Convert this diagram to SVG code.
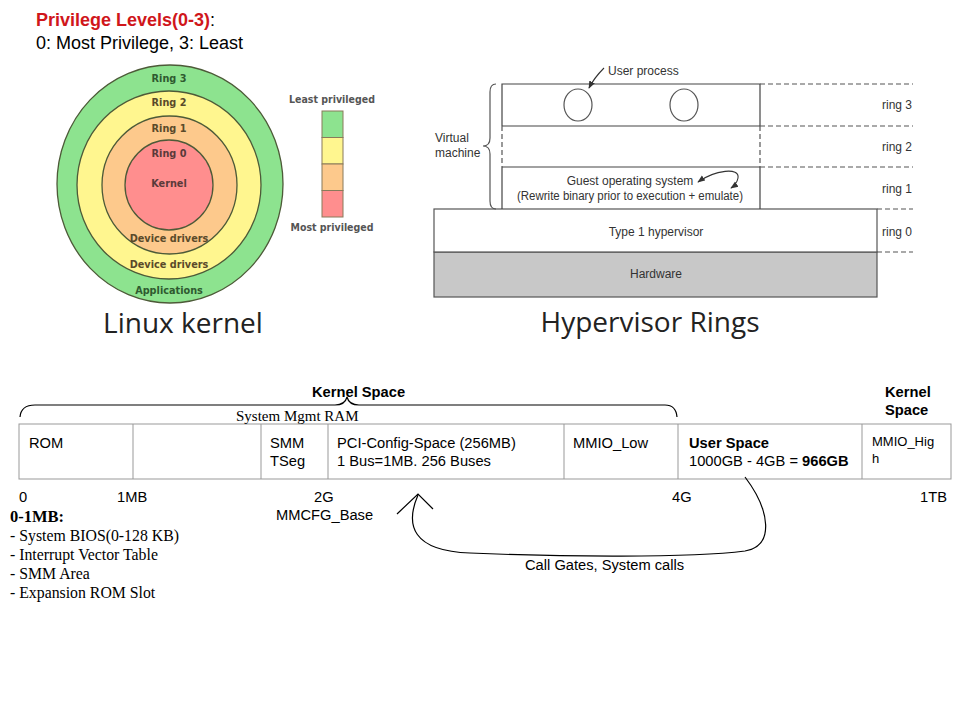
<svg xmlns="http://www.w3.org/2000/svg" width="960" height="720" viewBox="0 0 960 720">
<defs>
<style>
.a{font-family:"Liberation Sans",Arial,sans-serif;fill:#000}
.s{font-family:"Liberation Serif","Times New Roman",serif;fill:#000}
.rl{font-family:"DejaVu Sans Condensed","DejaVu Sans",sans-serif;font-weight:bold;font-size:10.8px;text-anchor:middle}
.lg{font-family:"DejaVu Sans Condensed","DejaVu Sans",sans-serif;font-weight:bold;font-size:10.5px;text-anchor:middle;fill:#555}
.h{font-family:"Liberation Sans",Arial,sans-serif;font-size:12px;fill:#333}
.big{font-family:"Open Sans","Noto Sans",sans-serif;font-size:28px;fill:#222;text-anchor:middle}
.ring{stroke:#4d5a38;stroke-width:1.3}
.ln{stroke:#444;stroke-width:1.2;fill:none}
.dash{stroke:#555;stroke-width:1.2;stroke-dasharray:5 3;fill:none}
.cell{fill:#fff;stroke:#999;stroke-width:1}
.cv{fill:none;stroke:#000;stroke-width:1.2}
.m{font-size:14.7px}
</style>
<marker id="ah" viewBox="0 0 10 10" refX="9" refY="5" markerWidth="7" markerHeight="7" orient="auto-start-reverse">
<path d="M0,1 L10,5 L0,9 z" fill="#333"/>
</marker>
</defs>
<rect width="960" height="720" fill="#fff"/>

<g id="title">
<text class="a" x="36" y="26" font-size="18" font-weight="bold" fill="#d0161b"><tspan fill="#d0161b">Privilege Levels(0-3)</tspan><tspan font-weight="normal" fill="#000">:</tspan></text>
<text class="a" x="36" y="49" font-size="18">0: Most Privilege, 3: Least</text>
</g>

<g id="linux-kernel">
<ellipse class="ring" cx="170" cy="184" rx="113" ry="119" fill="#8de38f"/>
<ellipse class="ring" cx="169" cy="185" rx="92" ry="94" fill="#fff68f"/>
<ellipse class="ring" cx="169.5" cy="185" rx="67.5" ry="69" fill="#fdc98c"/>
<ellipse class="ring" cx="169" cy="185" rx="44" ry="45" fill="#ff8e8e"/>
<text class="rl" x="169" y="82" fill="#2f5a2f">Ring 3</text>
<text class="rl" x="169" y="106" fill="#5a4a2a">Ring 2</text>
<text class="rl" x="169" y="132" fill="#5a4a2a">Ring 1</text>
<text class="rl" x="169" y="157" fill="#5a3a3a">Ring 0</text>
<text class="rl" x="169" y="187" fill="#5a3a3a">Kernel</text>
<text class="rl" x="169" y="242" fill="#5a4a2a">Device drivers</text>
<text class="rl" x="169" y="268" fill="#5a4a2a">Device drivers</text>
<text class="rl" x="169" y="294" fill="#2f5a2f">Applications</text>
<text class="lg" x="332" y="103">Least privileged</text>
<text class="lg" x="332" y="231">Most privileged</text>
<rect x="322" y="111" width="21" height="26.5" fill="#8de38f" stroke="#8a7a5a"/>
<rect x="322" y="137.5" width="21" height="26.5" fill="#fff68f" stroke="#8a7a5a"/>
<rect x="322" y="164" width="21" height="26.5" fill="#fdc98c" stroke="#8a7a5a"/>
<rect x="322" y="190.5" width="21" height="26.5" fill="#ff8e8e" stroke="#8a7a5a"/>
<text class="big" x="183" y="333">Linux kernel</text>
</g>

<g id="hypervisor-rings">
<rect x="434" y="252" width="443" height="45" fill="#c8c8c8" stroke="#555" stroke-width="1.2"/>
<rect x="434" y="209" width="443" height="43" fill="#fff" stroke="#555" stroke-width="1.2"/>
<path class="ln" d="M502 126 V84 H760 V126 M502 126 H760 M502 167 H760 M502 167 V209 M760 167 V209"/>
<path class="dash" d="M502 126 V167 M760 126 V167"/>
<path class="dash" d="M760 84 H913 M760 126 H913 M760 167 H913 M877 209 H913 M877 252 H913"/>
<ellipse cx="578" cy="105" rx="14" ry="16" fill="none" stroke="#555" stroke-width="1.2"/>
<ellipse cx="684" cy="105" rx="14" ry="16" fill="none" stroke="#555" stroke-width="1.2"/>
<path d="M496 84 Q490 84 490 92 V138 Q490 146 483 146 Q490 146 490 154 V201 Q490 209 496 209" fill="none" stroke="#555" stroke-width="1.2"/>
<text class="h" x="435" y="142">Virtual</text>
<text class="h" x="435" y="157">machine</text>
<text class="h" x="608" y="75">User process</text>
<path d="M604 68 Q594 78 589 88" fill="none" stroke="#333" stroke-width="1.1" marker-end="url(#ah)"/>
<text class="h" x="630" y="185" text-anchor="middle">Guest operating system</text>
<text class="h" x="630" y="200" text-anchor="middle" textLength="226" lengthAdjust="spacingAndGlyphs">(Rewrite binary prior to execution + emulate)</text>
<path d="M698 182 C715 170 740 167 738 178 C737 183 734 186 731 188" fill="none" stroke="#333" stroke-width="1.1" marker-start="url(#ah)" marker-end="url(#ah)"/>
<text class="h" x="656" y="236" text-anchor="middle">Type 1 hypervisor</text>
<text class="h" x="656" y="278" text-anchor="middle">Hardware</text>
<text class="h" x="882" y="109">ring 3</text>
<text class="h" x="882" y="151">ring 2</text>
<text class="h" x="882" y="193">ring 1</text>
<text class="h" x="882" y="236">ring 0</text>
<text class="big" x="650" y="332">Hypervisor Rings</text>
</g>

<g id="memory-map">
<rect class="cell" x="19" y="424" width="932" height="55"/>
<path d="M133 424 V479 M261 424 V479 M328 424 V479 M564 424 V479 M678 424 V479 M862 424 V479" stroke="#999" stroke-width="1"/>
<text class="a m" x="29" y="448">ROM</text>
<text class="a m" x="270" y="448">SMM</text>
<text class="a m" x="270" y="466">TSeg</text>
<text class="a m" x="337" y="448">PCI-Config-Space (256MB)</text>
<text class="a m" x="337" y="466">1 Bus=1MB. 256 Buses</text>
<text class="a m" x="573" y="448">MMIO_Low</text>
<text class="a m" x="689" y="448" font-weight="bold">User Space</text>
<text class="a m" x="689" y="466">1000GB - 4GB = <tspan font-weight="bold">966GB</tspan></text>
<text class="a" x="872" y="446" font-size="13">MMIO_Hig</text>
<text class="a" x="872" y="463" font-size="13">h</text>
</g>

<g id="labels">
<text class="a m" x="312" y="397" font-weight="bold">Kernel Space</text>
<text class="a m" x="885" y="397" font-weight="bold">Kernel</text>
<text class="a m" x="885" y="415" font-weight="bold">Space</text>
<text class="s" x="236" y="421" font-size="15">System Mgmt RAM</text>
<text class="a m" x="19" y="502">0</text>
<text class="a m" x="117" y="502">1MB</text>
<text class="a m" x="314" y="502">2G</text>
<text class="a m" x="276" y="520">MMCFG_Base</text>
<text class="a m" x="672" y="502">4G</text>
<text class="a m" x="920" y="502">1TB</text>
<text class="a m" x="525" y="570">Call Gates, System calls</text>
<text class="s" x="10" y="522" font-size="16.5" font-weight="bold">0-1MB:</text>
<text class="s" x="10" y="541" font-size="15.8">- System BIOS(0-128 KB)</text>
<text class="s" x="10" y="560" font-size="15.8">- Interrupt Vector Table</text>
<text class="s" x="10" y="579" font-size="15.8">- SMM Area</text>
<text class="s" x="10" y="598" font-size="15.8">- Expansion ROM Slot</text>
</g>

<g id="connectors">
<path class="cv" d="M20 417 Q21 405 35 405 H335 Q345 405 347 397 Q349 405 359 405 H665 Q676 405 677 417"/>
<path class="cv" d="M397 514 L418 494 L433 509"/>
<path class="cv" d="M418 495 C405 525 412 551 470 553 C560 557 690 558 745 551 C775 546 770 510 745 477"/>
</g>
</svg>
